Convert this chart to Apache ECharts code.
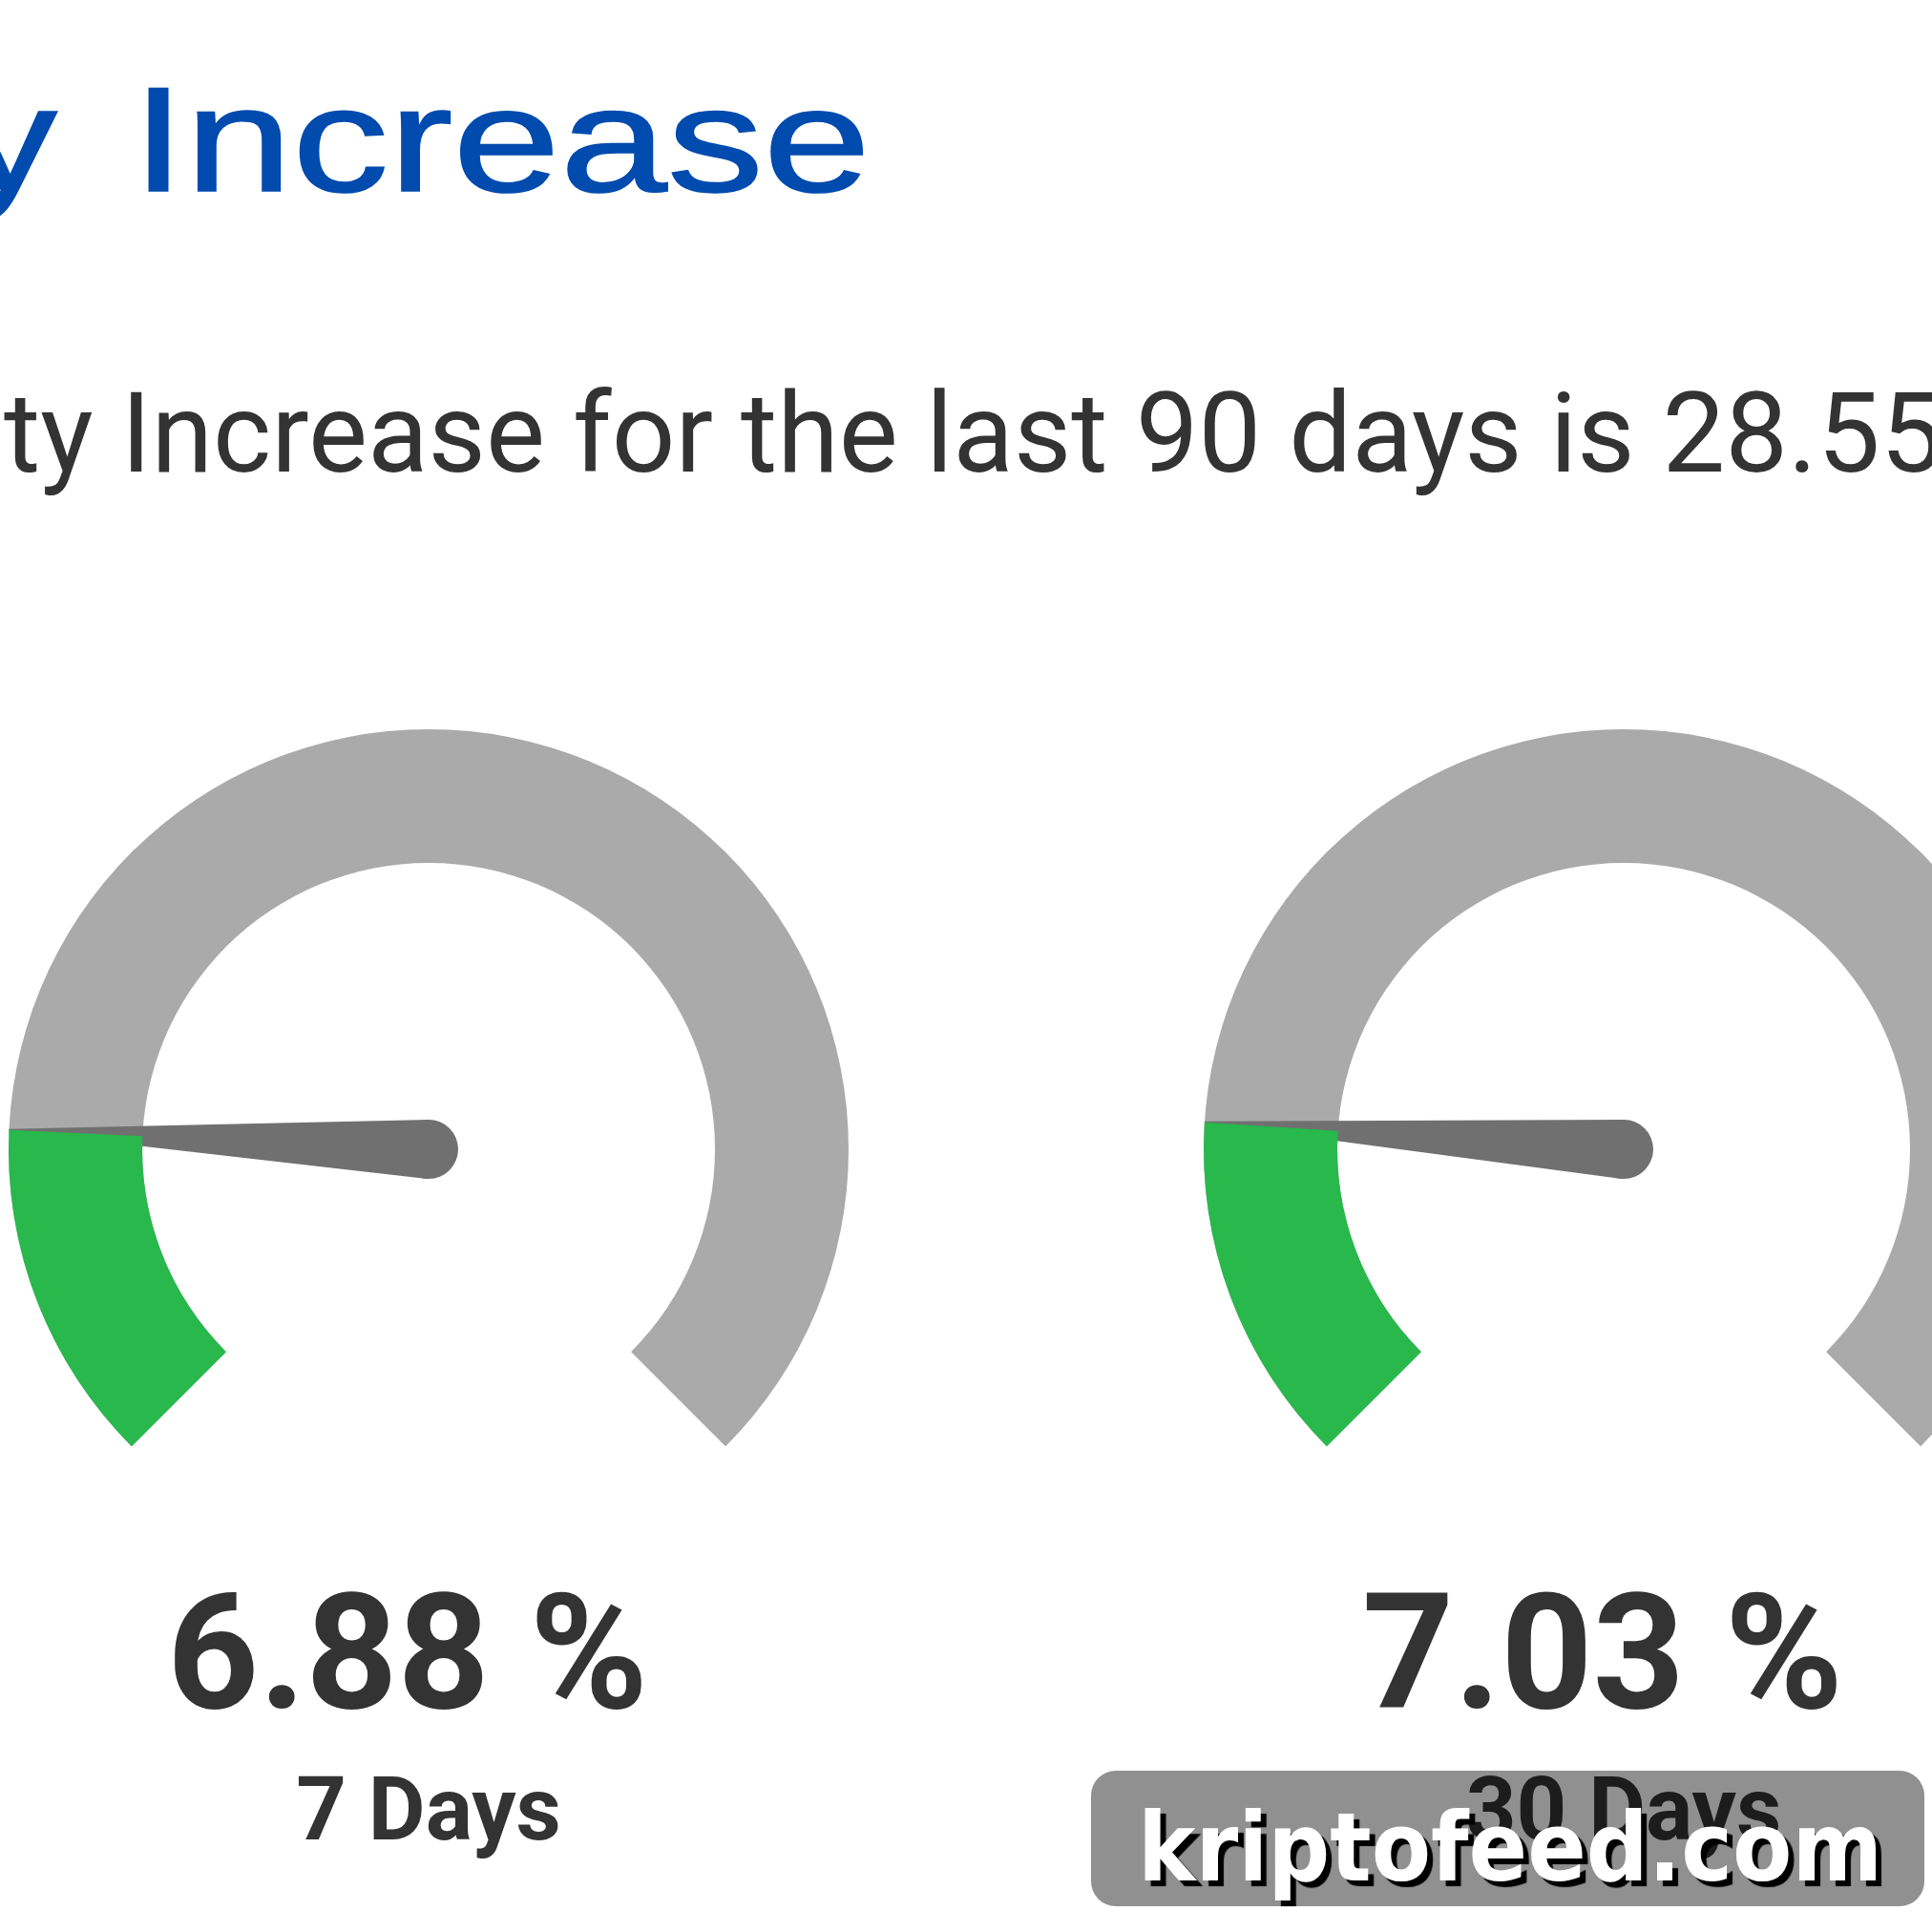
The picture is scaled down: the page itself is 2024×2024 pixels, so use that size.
<!DOCTYPE html>
<html>
<head>
<meta charset="utf-8">
<script src="https://cdn.jsdelivr.net/npm/echarts/dist/echarts.min.js"></script>
<style>
html,body{margin:0;padding:0;background:#ffffff;overflow:hidden}
#chart{width:2024px;height:2024px}
</style>
</head>
<body>
<div id="chart"></div>
<script>
// ---- data ----
const titleLead = 'y';
const titleMain = 'Increase';
const subtitleText = 'ty Increase for the last 90 days is 28.55 %';
const gaugeLabels = ['7 Days', '30 Days'];
const gaugeValues = [6.88, 7.03];
const gaugeMin = 0;
const gaugeMax = 39;
const watermarkText = 'kriptofeed.com';

// ---- helpers ----
const mctx = document.createElement('canvas').getContext('2d');
function textWidth(text, font) { mctx.font = font; return mctx.measureText(text).width; }

const TITLE_SIZE = 155;
const TITLE_FONT = 'normal ' + TITLE_SIZE + 'px "Liberation Sans"';
const titleScale = 747 / (textWidth(titleMain, TITLE_FONT) - 0.134 * TITLE_SIZE);
const WM_FONT = 'bold 100px "DejaVu Sans"';
const wmScale = 780 / textWidth(watermarkText, WM_FONT);

const GREEN = '#28B84C';
const GREY = '#AAAAAA';
const NEEDLE = '#707070';
const TEXT = '#333333';
const BLUE = '#024BAE';

const centersX = [449, 1701];
const centerY = 1204;

const chart = echarts.init(document.getElementById('chart'), null, { renderer: 'canvas', width: 2024, height: 2024 });

const series = gaugeValues.map((v, i) => ({
  type: 'gauge',
  center: [centersX[i], centerY],
  radius: 440,
  startAngle: 225,
  endAngle: -45,
  min: gaugeMin,
  max: gaugeMax,
  clockwise: true,
  axisLine: { show: true, roundCap: false, lineStyle: { width: 140, color: [[1, GREY]] } },
  progress: { show: true, width: 140, roundCap: false, itemStyle: { color: GREEN } },
  axisTick: { show: false },
  splitLine: { show: false },
  axisLabel: { show: false },
  pointer: {
    show: true,
    icon: 'path://M30,0 L32,0 L62,440 L0,440 Z',
    length: '100%',
    width: 62,
    keepAspect: false,
    itemStyle: { color: NEEDLE }
  },
  anchor: { show: true, showAbove: true, size: 62, itemStyle: { color: NEEDLE, borderWidth: 0 } },
  title: {
    show: true,
    offsetCenter: [0, 700],
    fontFamily: 'Roboto',
    fontWeight: 'bold',
    fontSize: 92,
    color: TEXT
  },
  detail: {
    show: true,
    offsetCenter: [-22, 543],
    formatter: '{value} %',
    fontFamily: 'Roboto',
    fontWeight: 'bold',
    fontSize: 168,
    color: TEXT,
    valueAnimation: false
  },
  data: [{ value: v, name: gaugeLabels[i] }]
}));

const option = {
  animation: false,
  backgroundColor: '#ffffff',
  graphic: [
    {
      type: 'text', x: 60, y: 157, scaleX: titleScale, z: 5,
      style: { text: titleLead, font: TITLE_FONT, fill: BLUE, stroke: BLUE, lineWidth: 1.6, align: 'right', verticalAlign: 'middle' }
    },
    {
      type: 'text', x: 157 - titleScale * 0.094 * TITLE_SIZE, y: 157, scaleX: titleScale, z: 5,
      style: { text: titleMain, font: TITLE_FONT, fill: BLUE, stroke: BLUE, lineWidth: 1.6, align: 'left', verticalAlign: 'middle' }
    },
    {
      type: 'text', x: 4, y: 465, z: 5,
      style: { text: subtitleText, font: 'normal 117px Roboto', fill: TEXT, align: 'left', verticalAlign: 'middle' }
    },
    {
      type: 'rect', z: 100,
      shape: { x: 1143, y: 1855, width: 873, height: 142, r: 26 },
      style: { fill: 'rgba(0,0,0,0.435)' }
    },
    {
      type: 'text', x: 1192, y: 1944, scaleX: wmScale, z: 101,
      style: {
        text: watermarkText, font: WM_FONT, fill: '#ffffff', align: 'left', verticalAlign: 'middle',
        textShadowColor: '#000000', textShadowOffsetX: 6, textShadowOffsetY: 6, textShadowBlur: 1,
        shadowColor: '#000000', shadowOffsetX: 6, shadowOffsetY: 6, shadowBlur: 1
      }
    }
  ],
  series: series
};

chart.setOption(option);
</script>
</body>
</html>
